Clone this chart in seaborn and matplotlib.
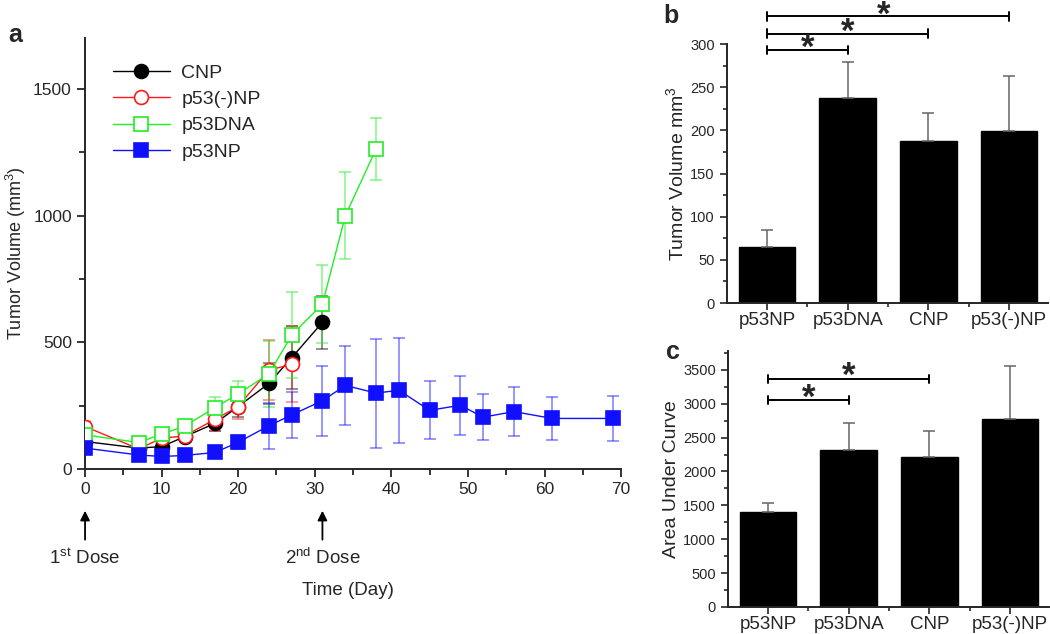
import numpy as np
import matplotlib.pyplot as plt
import seaborn as sns
import pandas as pd

# --- panel a: tumor growth curves ---
days_cnp = [0, 7, 10, 13, 17, 20, 24, 27, 31]
cnp = [109, 83, 89, 128, 181, 247, 338, 440, 579]
cnp_err = [12, 15, 15, 15, 30, 40, 80, 125, 105]

days_neg = [0, 7, 10, 13, 17, 20, 24, 27]
p53neg = [168, 80, 122, 131, 197, 247, 391, 413]
p53neg_err = [20, 15, 25, 20, 45, 50, 120, 150]

days_dna = [0, 7, 10, 13, 17, 20, 24, 27, 31, 34, 38]
p53dna = [135, 105, 138, 170, 243, 297, 375, 529, 651, 1000, 1262]
p53dna_err = [15, 15, 20, 15, 40, 50, 130, 170, 155, 170, 122]

days_np = [0, 7, 10, 13, 17, 20, 24, 27, 31, 34, 38, 41, 45, 49, 52, 56, 61, 69]
p53np = [83, 56, 50, 54, 66, 106, 171, 214, 270, 330, 300, 311, 232, 252, 205, 227, 200, 200]
p53np_err = [10, 8, 8, 8, 10, 25, 90, 90, 138, 157, 215, 208, 115, 117, 90, 97, 86, 87]

# --- panels b, c: bar summaries ---
groups = ["p53NP", "p53DNA", "CNP", "p53(-)NP"]
vol = [65, 238, 188, 199]
vol_err = [20, 41, 32, 64]
auc = [1400, 2320, 2220, 2780]
auc_err = [140, 400, 370, 770]

sns.set_style("ticks")
plt.rcParams["font.family"] = ["Liberation Sans", "DejaVu Sans"]
plt.rcParams["mathtext.fontset"] = "custom"
plt.rcParams["mathtext.rm"] = "Liberation Sans"
plt.rcParams["mathtext.it"] = "Liberation Sans:italic"
plt.rcParams["mathtext.bf"] = "Liberation Sans:bold"
plt.rcParams["axes.linewidth"] = 1.4

fig = plt.figure(figsize=(10.5, 6.34), dpi=100)
ax_a = fig.add_axes([0.081, 0.260, 0.5105, 0.680])
ax_b = fig.add_axes([0.692, 0.522, 0.306, 0.4085])
ax_c = fig.add_axes([0.693, 0.0426, 0.306, 0.404])

series = [
    ("CNP", days_cnp, cnp, cnp_err, "black", "o", "black"),
    ("p53(-)NP", days_neg, p53neg, p53neg_err, "#ff1a1a", "o", "white"),
    ("p53DNA", days_dna, p53dna, p53dna_err, "#22ee22", "s", "white"),
    ("p53NP", days_np, p53np, p53np_err, "#1010ff", "s", "#1010ff"),
]
for name, x, y, e, col, mk, fc in series:
    ax_a.errorbar(x, y, yerr=e, fmt="none", ecolor=col, alpha=0.55,
                  elinewidth=1.1, capsize=4, capthick=1.1, zorder=2)
for name, x, y, e, col, mk, fc in series:
    df = pd.DataFrame({"day": x, "vol": y})
    sns.lineplot(data=df, x="day", y="vol", ax=ax_a, color=col, marker=mk,
                 markersize=10 if mk == "o" else 9.5, markerfacecolor=fc,
                 markeredgecolor=col, markeredgewidth=1.2, linewidth=1.0,
                 label=name, zorder=3)

ax_a.set_xlim(0, 70)
ax_a.set_ylim(0, 1700)
ax_a.set_xticks(range(0, 71, 10))
ax_a.set_xticks(range(0, 71, 5), minor=True)
ax_a.set_yticks([0, 500, 1000, 1500])
ax_a.set_yticks(range(0, 1700, 250), minor=True)
ax_a.tick_params(labelsize=12.5, length=6, width=1.3)
ax_a.tick_params(which="minor", length=4, width=1.3)
ax_a.set_ylabel("Tumor Volume (mm$^3$)", fontsize=13, labelpad=4)
ax_a.set_xlabel("Time (Day)", fontsize=13.5)
ax_a.xaxis.set_label_coords(0.49, -0.281)
ax_a.xaxis.label.set_va("center")
sns.despine(ax=ax_a)
ax_a.spines["left"].set_bounds(0, 1700)
leg = ax_a.legend(loc="upper left", bbox_to_anchor=(0.02, 0.98), frameon=False,
                  fontsize=14, handlelength=2.9, labelspacing=0.45, handletextpad=0.6)

# dose arrows
tr = ax_a.get_xaxis_transform()
for xd, txt in [(0, "1$^{\\mathrm{st}}$ Dose"), (31, "2$^{\\mathrm{nd}}$ Dose")]:
    ax_a.annotate("", xy=(xd, -0.090), xytext=(xd, -0.170), xycoords=tr, textcoords=tr,
                  arrowprops=dict(arrowstyle="-|>", color="black", lw=1.3,
                                  mutation_scale=14), annotation_clip=False)
    ax_a.text(xd, -0.2065, txt, transform=tr, ha="center", va="center", fontsize=13.5)


def bar_panel(ax, vals, errs, ylabel, ylim, major, minor):
    df = pd.DataFrame({"group": groups, "val": vals})
    sns.barplot(data=df, x="group", y="val", ax=ax, color="black", width=0.7,
                edgecolor="black", saturation=1)
    ax.errorbar(range(len(groups)), vals, yerr=[[0] * len(errs), errs], fmt="none",
                ecolor="#666666", elinewidth=1.1, capsize=4, capthick=1.1)
    ax.set_xlim(-0.5, 3.48)
    ax.set_ylim(*ylim)
    ax.set_yticks(np.arange(0, ylim[1] + 1, major))
    ax.set_yticks(np.arange(0, ylim[1] + 1, minor), minor=True)
    ax.set_xticks([0.5, 1.5, 2.5], minor=True)
    ax.tick_params(axis="y", labelsize=10.5, length=5, width=1.2)
    ax.tick_params(axis="x", labelsize=13.5, length=5, width=1.2, pad=1.5)
    ax.tick_params(which="minor", length=3, width=1.2)
    ax.set_xlabel("")
    ax.set_ylabel(ylabel, fontsize=14, labelpad=2)
    sns.despine(ax=ax)


def bracket(ax, x0, x1, y, cap, star_y, star_x=None):
    ax.plot([x0, x1], [y, y], color="black", lw=1.4, clip_on=False)
    for xx in (x0, x1):
        ax.plot([xx, xx], [y - cap, y + cap], color="black", lw=1.4, clip_on=False)
    sx = (x0 + x1) / 2 if star_x is None else star_x
    ax.text(sx, star_y, "*", ha="center", va="center", fontsize=25,
            fontweight="bold", clip_on=False)


bar_panel(ax_b, vol, vol_err, "Tumor Volume mm$^3$", (0, 300), 50, 25)
bracket(ax_b, 0, 1, 293, 5, 295)
bracket(ax_b, 0, 2, 312, 5, 314)
bracket(ax_b, 0, 3, 332, 5, 333, 1.45)

bar_panel(ax_c, auc, auc_err, "Area Under Curve", (0, 3780), 500, 250)
bracket(ax_c, 0, 1, 3060, 60, 3080)
bracket(ax_c, 0, 2, 3370, 60, 3410)

fig.text(0.008, 0.945, "a", fontsize=18, fontweight="bold", va="center")
fig.text(0.632, 0.975, "b", fontsize=18, fontweight="bold", va="center")
fig.text(0.634, 0.445, "c", fontsize=18, fontweight="bold", va="center")

fig.savefig("out.png", dpi=100)
